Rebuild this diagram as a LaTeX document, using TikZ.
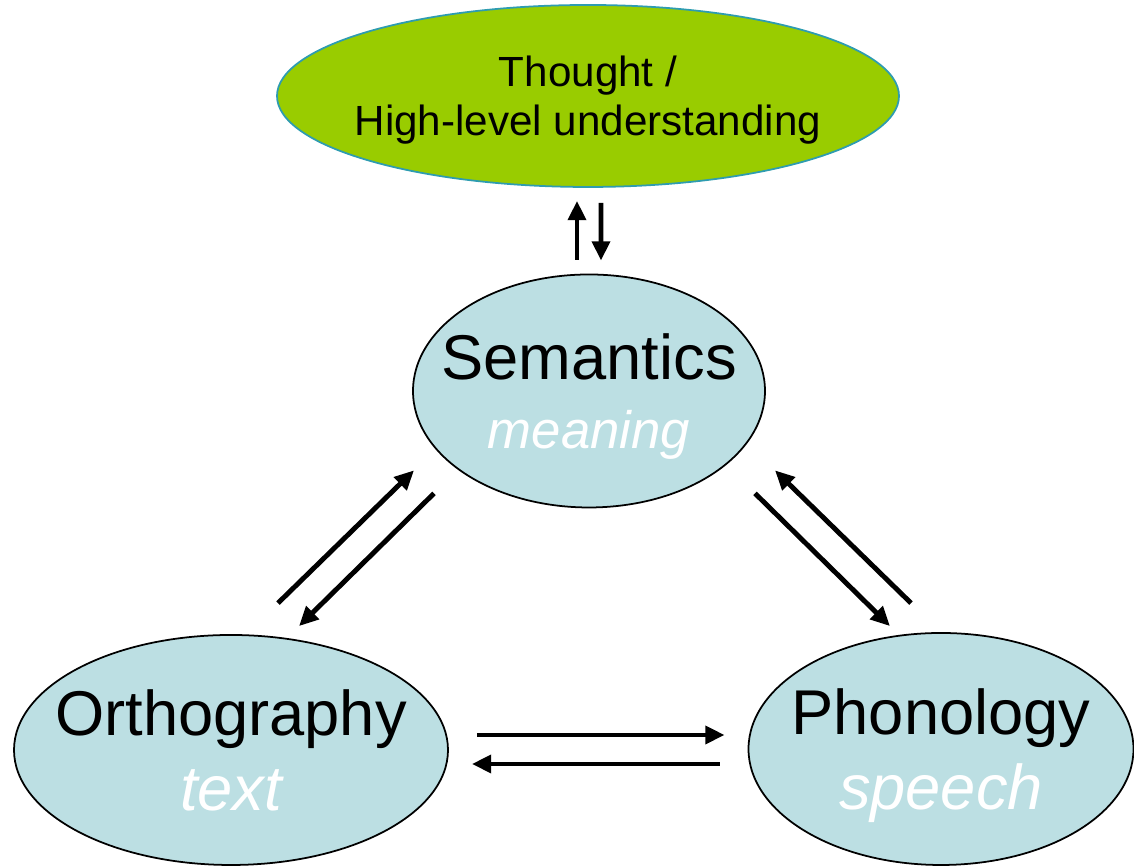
\documentclass[tikz,border=0pt]{standalone}
\usepackage{fontspec}
\setmainfont{Liberation Sans}
\usetikzlibrary{arrows.meta,shapes.geometric}
\definecolor{thoughtfill}{HTML}{99CC00}
\definecolor{thoughtedge}{HTML}{2E9CB0}
\definecolor{bubblefill}{HTML}{BCDFE3}
\tikzset{
  bubble/.style={
    ellipse,
    draw=black,
    line width=0.5pt,
    fill=bubblefill,
    align=center,
    inner xsep=-0.5cm,
    inner ysep=0pt,
    minimum height=2.32cm,
    font=\fontsize{18}{20.5}\selectfont
  },
  thought/.style={bubble, fill=thoughtfill, draw=thoughtedge,
    minimum width=6.22cm, minimum height=1.82cm,
    font=\fontsize{12}{14}\selectfont},
  link/.style={-{Triangle[length=5.5pt,width=5pt]}, line width=1.4pt}
}
\newcommand{\glosstext}[2][18]{{\fontsize{#1}{#1}\selectfont\itshape\color{white}#2}}

\begin{document}
\begin{tikzpicture}[x=1cm,y=1cm]
  \useasboundingbox (0,0) rectangle (11.34,8.67);

  % The four levels.
  \node[thought, text depth=-1.5pt] (thought) at (5.88,7.71) {Thought /\\ High-level understanding};
  \node[bubble, minimum width=3.52cm, minimum height=2.33cm, text depth=-1pt] (sem) at (5.89,4.76)
    {Semantics\\[-1pt] \glosstext[15]{meaning}};
  \node[bubble, minimum width=4.34cm, minimum height=2.30cm, text depth=-3.4pt] (ortho) at (2.31,1.17)
    {Orthography\\[1pt] \glosstext{text}};
  \node[bubble, minimum width=3.85cm, text depth=-2.4pt] (phon) at (9.41,1.18)
    {Phonology\\[1pt] \glosstext{speech}};

  % Semantics <-> thought.
  \draw[link] ([xshift=-0.12cm,yshift=0.14cm]sem.north) -- ([xshift=-0.11cm,yshift=-0.13cm]thought.south);
  \draw[link] ([xshift=0.13cm,yshift=-0.15cm]thought.south) -- ([xshift=0.12cm,yshift=0.13cm]sem.north);

  % Orthography <-> semantics.
  \draw[link] ([xshift=0.47cm,yshift=0.31cm]ortho.north) -- ([xshift=-1.75cm,yshift=0.38cm]sem.south);
  \draw[link] ([xshift=-1.55cm,yshift=0.15cm]sem.south) -- ([xshift=0.68cm,yshift=0.08cm]ortho.north);

  % Semantics <-> phonology.
  \draw[link] ([xshift=1.66cm,yshift=0.15cm]sem.south) -- ([xshift=-0.51cm,yshift=0.06cm]phon.north);
  \draw[link] ([xshift=-0.30cm,yshift=0.29cm]phon.north) -- ([xshift=1.86cm,yshift=0.38cm]sem.south);

  % Orthography <-> phonology.
  \draw[link] ([xshift=0.28cm,yshift=0.15cm]ortho.east) -- ([xshift=-0.23cm,yshift=0.14cm]phon.west);
  \draw[link] ([xshift=-0.28cm,yshift=-0.15cm]phon.west) -- ([xshift=0.23cm,yshift=-0.14cm]ortho.east);

\end{tikzpicture}
\end{document}
